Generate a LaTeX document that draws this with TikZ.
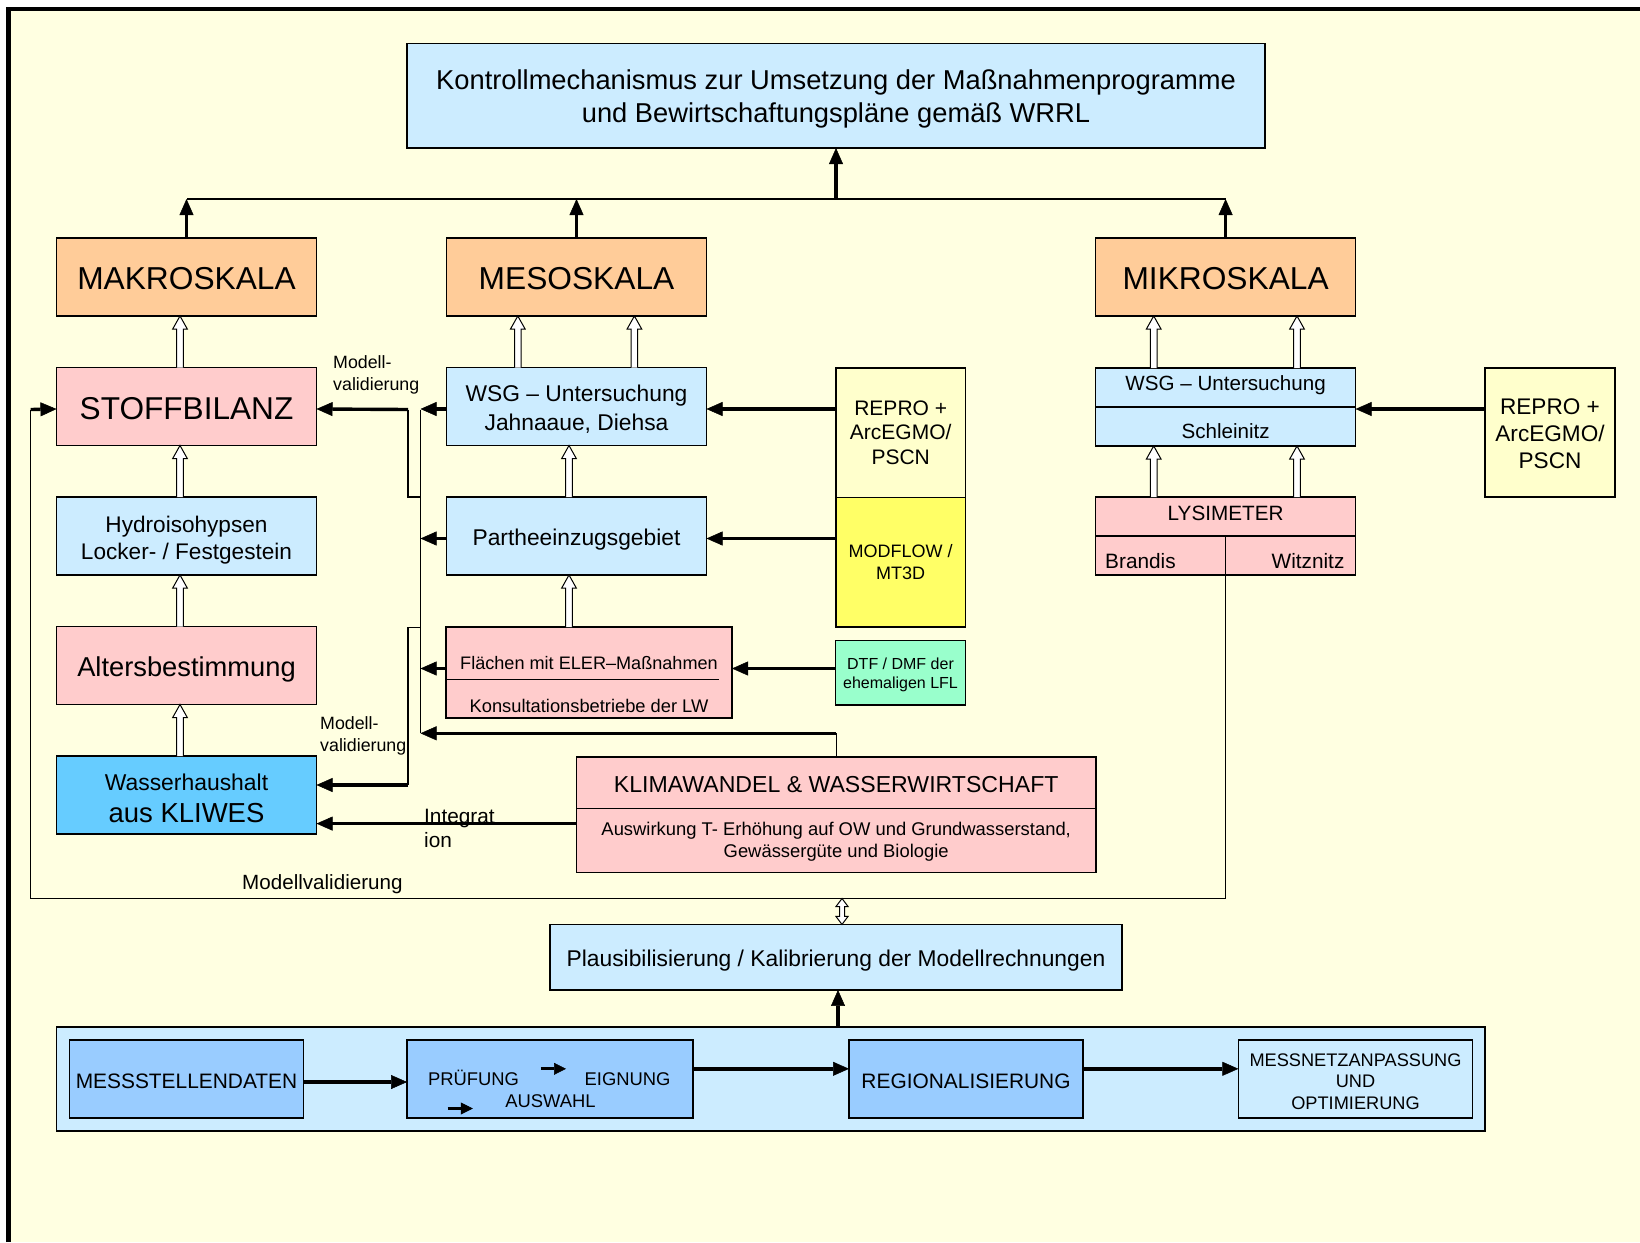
\documentclass[tikz,border=0pt]{standalone}
\usepackage{fontspec}
\setmainfont{Liberation Sans}
\usetikzlibrary{arrows.meta}
\usetikzlibrary{positioning}
\usetikzlibrary{calc}

\definecolor{grundgelb}{HTML}{FFFFE1}
\definecolor{skala}{HTML}{FFCC99}
\definecolor{rosa}{HTML}{FFCCCC}
\definecolor{hellblau}{HTML}{CCECFF}
\definecolor{mittelblau}{HTML}{99CCFF}
\definecolor{kliwesblau}{HTML}{66CCFF}
\definecolor{hellgelb}{HTML}{FFFFCC}
\definecolor{gelb}{HTML}{FFFF66}
\definecolor{mint}{HTML}{99FFCC}

\newcommand{\schrift}[2]{\fontsize{#1}{#2}\selectfont}
% Zeile etwas tiefer setzen, ohne die Boxmasse zu aendern
\newcommand{\tief}[2]{\raisebox{-#1}[\height][\depth]{#2}}

\tikzset{
  box/.style={draw, line width=1.3pt, inner sep=0pt, outer sep=0pt, align=center,
              minimum width=260pt, minimum height=78pt},
  txt/.style={inner sep=0pt, align=center},
  lbl/.style={inner sep=0pt, align=left},
  link/.style={line width=1.3pt},
  flow/.style={line width=3.4pt, -{Triangle[length=16pt,width=14pt,line width=0.5pt]}},
  kleinpfeil/.style={line width=2.8pt, -{Triangle[length=12pt,width=12pt,line width=0.5pt]}},
  hollow/.style={draw, fill=white, line width=1pt, line join=miter},
}

% hohler Blockpfeil nach oben: x, unterer Knoten, oberer Knoten
\newcommand{\hollowup}[3]{%
  \path[hollow] let \p1=(#2.north), \p2=(#3.south) in
    (#1pt-3.3pt,\y1) -- (#1pt-3.3pt,\y2-13pt) -- (#1pt-7.3pt,\y2-13pt) -- (#1pt,\y2)
    -- (#1pt+7.3pt,\y2-13pt) -- (#1pt+3.3pt,\y2-13pt) -- (#1pt+3.3pt,\y1);
}

\begin{document}
\begin{tikzpicture}[x=1pt,y=1pt,node distance=51.5pt]
\useasboundingbox (0,0) rectangle (1640,-1242);

% Hintergrund und Rahmen
\fill[grundgelb] (8.5,-9) rectangle (1640,-1242);
\draw[line width=4.5pt] (8.5,-1242) -- (8.5,-9) -- (1640,-9);

% Kopf
\node[box, fill=hellblau, minimum width=858pt, minimum height=104.5pt] (ziel) at (836,-95.8) {};
\node[txt, font=\schrift{27.3}{32.4}] (zielText) at (836,-99)
  {Kontrollmechanismus zur Umsetzung der Maßnahmenprogramme\\und Bewirtschaftungspläne gemäß WRRL};

% Skalen
\node[box, fill=skala, font=\schrift{31.7}{36}] (makro) at (186.5,-277) {\tief{2pt}{MAKROSKALA}};
\node[box, fill=skala, font=\schrift{31.7}{36}, right=130pt of makro] (meso) {\tief{2pt}{MESOSKALA}};
\node[box, fill=skala, font=\schrift{31.7}{36}] (mikro) at (1225.6,-277) {\tief{2pt}{MIKROSKALA}};

% linke Spalte
\node[box, fill=rosa, font=\schrift{31.6}{36}, below=of makro] (stoff) {\tief{2pt}{STOFFBILANZ}};
\node[box, fill=hellblau, font=\schrift{22.6}{27.5}, below=of stoff] (hydro)
  {\tief{4pt}{Hydroisohypsen}\\\tief{4pt}{Locker- / Festgestein}};
\node[box, fill=rosa, font=\schrift{27.3}{32}, below=of hydro] (alter) {\tief{4pt}{Altersbestimmung}};
\node[box, fill=kliwesblau, font=\schrift{27.5}{32}, below=of alter] (kliwes)
  {\tief{4pt}{\schrift{22.9}{27}Wasserhaushalt}\\[1pt]\tief{3pt}{aus KLIWES}};

% mittlere Spalte
\node[box, fill=hellblau, font=\schrift{22.8}{29}, below=of meso] (wsgM)
  {\tief{2.5pt}{WSG – Untersuchung}\\\tief{2.5pt}{Jahnaaue, Diehsa}};
\node[box, fill=hellblau, font=\schrift{22.8}{28}, below=of wsgM] (parthe) {\tief{4pt}{Partheeinzugsgebiet}};
\node[box, fill=rosa, minimum width=286pt, minimum height=91pt] (flaechen) at (589,-672.5) {};
\node[txt, font=\schrift{18.1}{21}] (flaechenA) at (589,-663.3) {Flächen mit ELER–Maßnahmen};
\node[txt, font=\schrift{18.3}{21}] (flaechenB) at (589,-706) {Konsultationsbetriebe der LW};
\draw[link] ([yshift=-6.8pt]flaechen.west) -- ++(273,0);

% Eingangsdaten
\node[box, fill=hellgelb, minimum width=129.4pt, minimum height=129.4pt, font=\schrift{21}{24.8}] (reproL) at (900.7,-432.7) {REPRO +\\ArcEGMO/\\PSCN};
\node[box, fill=gelb, minimum width=129.4pt, minimum height=129.6pt, font=\schrift{18}{22}, below=0pt of reproL] (modflow) {MODFLOW /\\MT3D};
\node[box, fill=mint, minimum width=129.7pt, minimum height=64.4pt, font=\schrift{16}{19}] (dtf) at (900.5,-672.8)
  {\tief{2pt}{DTF / DMF der}\\\tief{2pt}{ehemaligen LFL}};

% rechte Spalte
\node[box, fill=hellblau] (wsgR) at (1225.6,-407) {};
\draw[link] (wsgR.west) -- (wsgR.east);
\node[txt, font=\schrift{20.6}{24}] (wsgRa) at (1225.6,-385) {WSG – Untersuchung};
\node[txt, font=\schrift{20.6}{24}] (wsgRb) at (1225.6,-431) {Schleinitz};
\node[box, fill=rosa, below=51pt of wsgR] (lysi) {};
\draw[link] (lysi.west) -- (lysi.east);
\draw[link] (lysi.center) -- (lysi.south);
\node[txt, font=\schrift{20.7}{24}] (lysiA) at (1225.6,-513.5) {LYSIMETER};
\node[txt, font=\schrift{20.8}{24}, anchor=west] (brandis) at (1105,-561.5) {Brandis};
\node[txt, font=\schrift{20.8}{24}, anchor=east] (witznitz) at (1344.6,-561.5) {Witznitz};
\node[box, fill=hellgelb, minimum width=130pt, minimum height=129pt, font=\schrift{22.6}{27}] (reproR) at (1550,-432.5)
  {\tief{1.5pt}{REPRO +}\\\tief{1.5pt}{ArcEGMO/}\\\tief{1.5pt}{PSCN}};

% Klimawandel
\node[box, fill=rosa, minimum width=519.7pt, minimum height=115.3pt] (klima) at (836.2,-814.7) {};
\draw[link] ([yshift=6.1pt]klima.west) -- ([yshift=6.1pt]klima.east);
\node[txt, font=\schrift{23.1}{27}] (klimaA) at (836.2,-785) {KLIMAWANDEL \& WASSERWIRTSCHAFT};
\node[txt, font=\schrift{18.4}{22.3}] (klimaB) at (836.2,-842) {Auswirkung T- Erhöhung auf OW und Grundwasserstand,\\Gewässergüte und Biologie};

% Plausibilisierung
\node[box, fill=hellblau, minimum width=572pt, minimum height=65.5pt, font=\schrift{22.8}{27}] (plaus) at (836,-957.2)
  {\tief{3pt}{Plausibilisierung / Kalibrierung der Modellrechnungen}};

% Messnetz
\node[box, fill=hellblau, minimum width=1428.5pt, minimum height=104pt] (netz) at (770.75,-1079) {};
\node[box, fill=mittelblau, minimum width=233.7pt, font=\schrift{20.9}{24}] (mess) at (186.5,-1079) {\tief{2pt}{MESSSTELLENDATEN}};
\node[box, fill=mittelblau, minimum width=286pt] (pruef) at (550,-1079) {};
\node[txt, font=\schrift{18.4}{22}, anchor=base] (pruefA) at (473.5,-1085.8) {PRÜFUNG};
\node[txt, font=\schrift{18.4}{22}, anchor=base] (pruefB) at (627.6,-1085.8) {EIGNUNG};
\node[txt, font=\schrift{18.4}{22}, anchor=base] (pruefC) at (550.4,-1107.5) {AUSWAHL};
\node[box, fill=mittelblau, minimum width=234pt, font=\schrift{20.9}{24}] (regio) at (966,-1079) {\tief{2pt}{REGIONALISIERUNG}};
\node[box, fill=hellblau, minimum width=234.3pt] (netzopt) at (1355.5,-1079) {};
\node[txt, font=\schrift{18.2}{21.5}] (netzoptText) at (1355.5,-1081.5) {MESSNETZANPASSUNG\\UND\\OPTIMIERUNG};

% Beschriftungen
\node[lbl, font=\schrift{17.8}{22.4}, anchor=west] (val1) at (333,-375) {Modell-\\validierung};
\node[lbl, font=\schrift{17.8}{22.4}, anchor=west] (val2) at (320,-735.7) {Modell-\\validierung};
\node[lbl, font=\schrift{20.8}{24}, anchor=west] (integ) at (424,-828) {Integrat\\ion};
\node[lbl, font=\schrift{20.6}{24}] (val3) at (322.4,-884) {Modellvalidierung};

% Skalen -> Kontrollmechanismus
\coordinate (busL) at (187,-199);
\coordinate (busR) at (1226,-199);
\draw[link] (busL) -- (busR);
\draw[flow] (ziel.south |- busL) -- (ziel.south);
\draw[flow] (makro.north) -- (makro.north |- busL);
\draw[flow] (meso.north) -- (meso.north |- busL);
\draw[flow] (mikro.north) -- (mikro.north |- busL);

% Anschlusspunkte der waagerechten Pfeile
\coordinate (stoffW) at ([yshift=-2.5pt]stoff.west);
\coordinate (stoffO) at ([yshift=-2.5pt]stoff.east);
\coordinate (wsgMW) at ([yshift=-2.5pt]wsgM.west);
\coordinate (wsgMO) at ([yshift=-2.5pt]wsgM.east);
\coordinate (partheW) at ([yshift=-2.5pt]parthe.west);
\coordinate (partheO) at ([yshift=-2.5pt]parthe.east);
\coordinate (wsgRO) at ([yshift=-2pt]wsgR.east);
\coordinate (flIn) at ([yshift=4pt]flaechen.west);
\coordinate (flOut) at ([yshift=4pt]flaechen.east);

% Validierungsschiene
\coordinate (vbTop) at (420.5,-409.5);
\coordinate (vbBot) at (420.5,-733.3);
\draw[link] (vbTop) -- (vbBot);
\draw[flow] (wsgMW) -- (wsgMW -| vbTop);
\draw[flow] (partheW) -- (partheW -| vbTop);
\draw[flow] (flIn) -- (flIn -| vbTop);
\coordinate (klKnick) at (klima.north |- vbBot);
\draw[link] (klima.north) -- (klKnick);
\draw[flow] (klKnick) -- (vbBot);

% Abzweige nach links
\coordinate (vbA) at (420.5,-497);
\coordinate (stKnick) at (408,-409.5);
\draw[link] (vbA) -| (stKnick);
\draw[flow] (stKnick) -- (stoffO);
\coordinate (vbB) at (420.5,-627.7);
\coordinate (kwKnick) at (408,-785);
\draw[link] (vbB) -| (kwKnick);
\draw[flow] (kwKnick) -- (kwKnick -| kliwes.east);

% Integration
\coordinate (intStart) at ([yshift=-8.9pt]klima.west);
\draw[flow] (intStart) -- (intStart -| kliwes.east);

% Eingangsdaten -> Untersuchungen
\draw[flow] (wsgMO -| reproL.west) -- (wsgMO);
\draw[flow] (partheO -| modflow.west) -- (partheO);
\draw[flow] (flOut -| dtf.west) -- (flOut);
\draw[flow] (wsgRO -| reproR.west) -- (wsgRO);

% Lysimeter -> Stoffbilanz
\coordinate (loopL) at (30.7,-409.5);
\coordinate (loopB) at (30.7,-898.5);
\draw[link] (lysi.south) |- (loopB) -- (loopL);
\draw[flow] (loopL) -- (stoffW);

% Messnetz -> Plausibilisierung
\coordinate (dpl) at (842,-898.5);
\path[hollow] let \p1=(dpl), \p2=(plaus.north) in
  (\x1,\y1) -- (\x1+6pt,\y1-8pt) -- (\x1+2.5pt,\y1-8pt) -- (\x1+2.5pt,\y2+8pt) -- (\x1+6pt,\y2+8pt)
  -- (\x1,\y2) -- (\x1-6pt,\y2+8pt) -- (\x1-2.5pt,\y2+8pt) -- (\x1-2.5pt,\y1-8pt) -- (\x1-6pt,\y1-8pt) -- cycle;
\coordinate (plIn) at ([xshift=2pt]plaus.south);
\draw[flow] (plIn |- netz.north) -- (plIn);

% Kette im Messnetz
\draw[flow] ([yshift=-3pt]mess.east) -- ([yshift=-3pt]pruef.west);
\coordinate (prOut) at ([yshift=10.2pt]pruef.east);
\draw[flow] (prOut) -- (prOut -| regio.west);
\coordinate (reOut) at ([yshift=10.2pt]regio.east);
\draw[flow] (reOut) -- (reOut -| netzopt.west);
\coordinate (pa1) at (540.8,-1068.8);
\coordinate (pa2) at (566,-1068.8);
\coordinate (pa3) at (447.7,-1108.5);
\coordinate (pa4) at (472.8,-1108.5);
\draw[kleinpfeil] (pa1) -- (pa2);
\draw[kleinpfeil] (pa3) -- (pa4);

% Hohlpfeile
\hollowup{180}{stoff}{makro}
\hollowup{180}{hydro}{stoff}
\hollowup{180}{alter}{hydro}
\hollowup{180}{kliwes}{alter}
\hollowup{517.8}{wsgM}{meso}
\hollowup{634.4}{wsgM}{meso}
\hollowup{569}{parthe}{wsgM}
\hollowup{569}{flaechen}{parthe}
\hollowup{1153.7}{wsgR}{mikro}
\hollowup{1297}{wsgR}{mikro}
\hollowup{1153.7}{lysi}{wsgR}
\hollowup{1297}{lysi}{wsgR}
\end{tikzpicture}
\end{document}
